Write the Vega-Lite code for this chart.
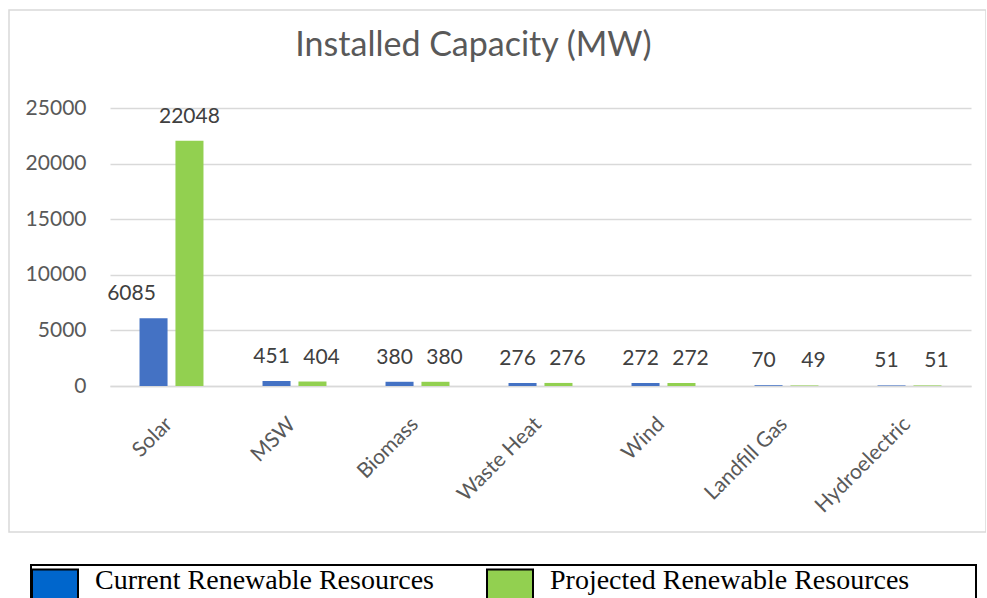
{
  "$schema": "https://vega.github.io/schema/vega-lite/v6.json",
  "width": 977,
  "height": 522,
  "padding": {"left": 9, "top": 10, "right": 0, "bottom": 0},
  "autosize": {"type": "pad"},
  "background": "white",
  "title": {
    "text": "Installed Capacity (MW)",
    "font": "Lato",
    "fontSize": 34,
    "fontWeight": "normal",
    "color": "#595959",
    "anchor": "middle",
    "offset": -80,
    "baseline": "alphabetic",
    "dx": -24
  },
  "config": {
    "view": {"stroke": "#D9D9D9", "strokeWidth": 1.5},
    "font": "Lato"
  },
  "data": {
    "values": [
      {"category": "Solar", "series": "Current Renewable Resources", "value": 6085},
      {"category": "Solar", "series": "Projected Renewable Resources", "value": 22048},
      {"category": "MSW", "series": "Current Renewable Resources", "value": 451},
      {"category": "MSW", "series": "Projected Renewable Resources", "value": 404},
      {"category": "Biomass", "series": "Current Renewable Resources", "value": 380},
      {"category": "Biomass", "series": "Projected Renewable Resources", "value": 380},
      {"category": "Waste Heat", "series": "Current Renewable Resources", "value": 276},
      {"category": "Waste Heat", "series": "Projected Renewable Resources", "value": 276},
      {"category": "Wind", "series": "Current Renewable Resources", "value": 272},
      {"category": "Wind", "series": "Projected Renewable Resources", "value": 272},
      {"category": "Landfill Gas", "series": "Current Renewable Resources", "value": 70},
      {"category": "Landfill Gas", "series": "Projected Renewable Resources", "value": 49},
      {"category": "Hydroelectric", "series": "Current Renewable Resources", "value": 51},
      {"category": "Hydroelectric", "series": "Projected Renewable Resources", "value": 51}
    ]
  },
  "encoding": {
    "x": {
      "field": "category",
      "type": "nominal",
      "sort": null,
      "scale": {"range": [101, 962], "paddingInner": 0.48, "paddingOuter": 0.24},
      "axis": {
        "title": null,
        "offset": -146,
        "labelAngle": -45,
        "labelPadding": 27,
        "labelOffset": -10,
        "ticks": false,
        "domain": true,
        "domainColor": "#D9D9D9",
        "domainWidth": 1.5,
        "grid": false,
        "labelFont": "Lato",
        "labelFontSize": 21,
        "labelColor": "#595959"
      }
    },
    "xOffset": {
      "field": "series",
      "type": "nominal",
      "scale": {"paddingInner": 0.22, "paddingOuter": 0}
    },
    "y": {
      "field": "value",
      "type": "quantitative",
      "scale": {"domain": [0, 25000], "range": [376, 98], "nice": false},
      "axis": {
        "title": null,
        "values": [0, 5000, 10000, 15000, 20000, 25000],
        "format": "d",
        "offset": -101,
        "labelPadding": 24,
        "ticks": false,
        "domain": false,
        "grid": true,
        "gridColor": "#D9D9D9",
        "gridWidth": 1.5,
        "labelFont": "Lato",
        "labelFontSize": 21,
        "labelColor": "#595959"
      }
    }
  },
  "layer": [
    {
      "mark": {"type": "bar"},
      "encoding": {
        "fill": {
          "field": "series",
          "type": "nominal",
          "scale": {"range": ["#4472C4", "#92D050"]},
          "legend": null
        }
      }
    },
    {
      "mark": {"type": "bar", "opacity": 0},
      "encoding": {
        "color": {
          "field": "series",
          "type": "nominal",
          "scale": {
            "domain": ["Current Renewable Resources", "Projected Renewable Resources"],
            "range": ["#0066CC", "#92D050"]
          },
          "legend": {
            "title": ".",
            "titleOrient": "right",
            "titlePadding": 60,
            "titleOpacity": 0,
            "titleFont": "Liberation Serif",
            "titleFontSize": 28,
            "orient": "none",
            "legendX": 22,
            "legendY": 555,
            "direction": "horizontal",
            "columns": 2,
            "symbolType": "M-1,-0.87H1V0.87H-1Z",
            "symbolSize": 2116,
            "symbolStrokeColor": "black",
            "symbolStrokeWidth": 2,
            "symbolOpacity": 1,
            "labelFont": "Liberation Serif",
            "labelFontSize": 28,
            "labelColor": "black",
            "labelBaseline": "alphabetic",
            "labelLimit": 1000,
            "labelOffset": 16,
            "columnPadding": 49,
            "padding": 0,
            "strokeColor": "black",
            "encode": {
              "legend": {
                "update": {"strokeWidth": {"value": 2}}
              }
            }
          }
        }
      }
    },
    {
      "mark": {
        "type": "text",
        "baseline": "alphabetic",
        "dy": -18,
        "dx": {"expr": "datum.series == 'Current Renewable Resources' ? (datum.category == 'Solar' ? -22 : -5) : (datum.category == 'Solar' ? 0 : 9)"},
        "font": "Lato",
        "fontSize": 21,
        "color": "#404040"
      },
      "encoding": {
        "text": {"field": "value", "type": "quantitative", "format": "d"}
      }
    }
  ]
}
